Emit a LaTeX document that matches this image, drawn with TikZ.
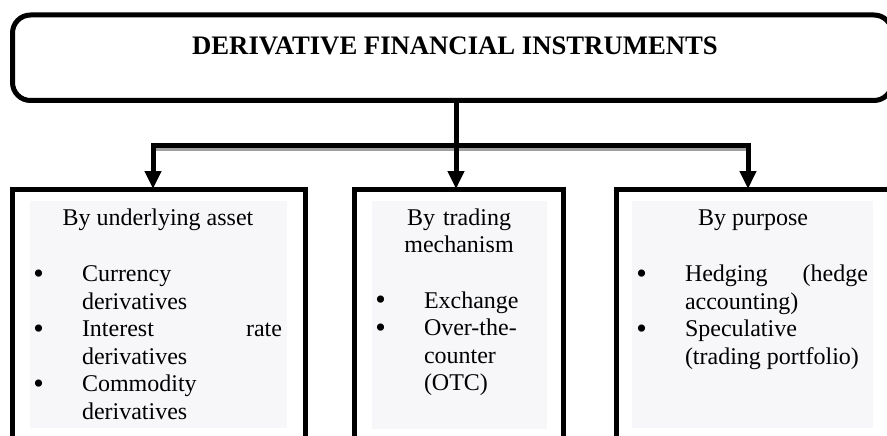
\documentclass[tikz,border=0pt]{standalone}
\usepackage{fontspec}
\setmainfont{Liberation Serif}
\usetikzlibrary{arrows.meta}
\definecolor{panel}{RGB}{247,247,250}
\definecolor{shadowgray}{RGB}{160,160,160}
\newcommand{\itembullet}{\llap{\makebox[87pt][c]{\raisebox{-1.5pt}{\fontsize{30}{30}\selectfont •}}}}
\begin{document}
\begin{tikzpicture}[x=1pt,y=-1pt,
  frame/.style={draw=black, line width=5pt, outer sep=0pt, inner sep=0pt, anchor=north west},
  panelfill/.style={fill=panel, draw=none, outer sep=0pt, inner sep=0pt, anchor=north west},
  body/.style={font=\fontsize{24}{27.6}\selectfont, inner sep=0pt, outer sep=0pt},
  heading/.style={body, anchor=base},
  item/.style={body, anchor=base west, align=justify},
  conn/.style={line width=5pt, line join=miter, -{Triangle[width=16pt,length=18pt]}}
]
\useasboundingbox (0,0) rectangle (887,436);
\clip (0,0) rectangle (887,436);

% top box
\node[frame, rounded corners=18pt, minimum width=879.5pt, minimum height=85.5pt] (top) at (12.5,15) {};
\node[font=\bfseries\fontsize{26.7}{30}\selectfont, anchor=base, inner sep=0pt] (title) at (455,55) {DERIVATIVE FINANCIAL INSTRUMENTS};

% bottom boxes
\node[frame, minimum width=292.5pt, minimum height=300pt] (b1) at (12.5,189) {};
\node[frame, minimum width=208.5pt, minimum height=300pt] (b2) at (354.5,189) {};
\node[frame, minimum width=280pt, minimum height=300pt] (b3) at (616.5,189) {};

\node[panelfill, minimum width=257pt, minimum height=227pt] (f1) at (30,201) {};
\node[panelfill, minimum width=175pt, minimum height=228pt] (f2) at (372,201) {};
\node[panelfill, minimum width=241pt, minimum height=227pt] (f3) at (632,201) {};

% connectors
\coordinate (hl) at (153,145.5);
\coordinate (hr) at (748,145.5);
\coordinate (j) at (456,145.5);
\draw[shadowgray, line width=3.5pt] (155.5,149.5) -- (750.5,149.5);
\draw[conn] (j) -- (hl) -- (b1.north -| hl);
\draw[conn] (j) -- (hr) -- (b3.north -| hr);
\draw[conn] (top.south -| j) -- (b2.north -| j);

% box 1
\node[heading] (h1) at (158,225) {By underlying asset};
\node[item, text width=200pt] (i1a) at (82,281.5) {\noindent\itembullet Currency\\derivatives};
\node[item, text width=200pt] (i1b) at (82,336.7) {\noindent\itembullet Interest\hfill rate\\derivatives};
\node[item, text width=200pt] (i1c) at (82,391.9) {\noindent\itembullet Commodity\\derivatives};

% box 2
\node[heading, text width=180pt, align=center] (h2) at (459,225) {By trading\\mechanism};
\node[item, text width=123pt] (i2a) at (424,308) {\noindent\itembullet Exchange};
\node[item, text width=123pt] (i2b) at (424,335.6) {\noindent\itembullet Over-the-\\counter\\(OTC)};

% box 3
\node[heading] (h3) at (753,225) {By purpose};
\node[item, text width=183pt] (i3a) at (685,281.5) {\noindent\itembullet Hedging\hfill(hedge\\accounting)};
\node[item, text width=183pt] (i3b) at (685,336.7) {\noindent\itembullet Speculative\\(trading portfolio)};
\end{tikzpicture}
\end{document}
